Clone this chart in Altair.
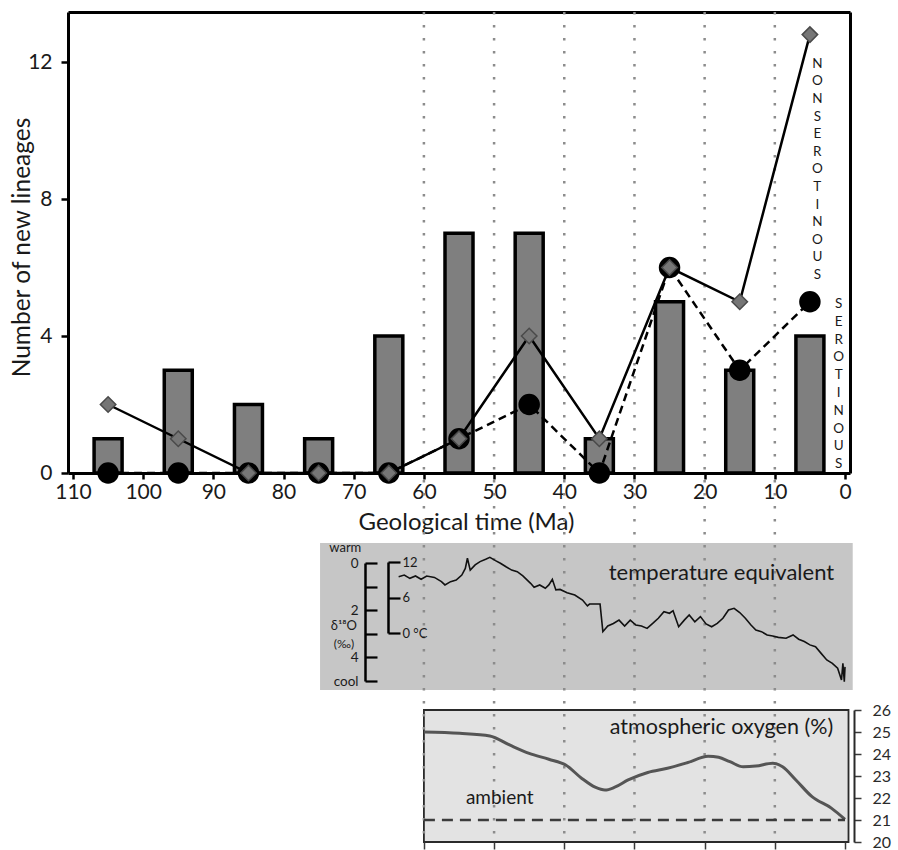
import altair as alt
import pandas as pd

# ---------------- data ----------------
bin_mid_ma = [105, 95, 85, 75, 65, 55, 45, 35, 25, 15, 5]
new_lineages_total = [1, 3, 2, 1, 4, 7, 7, 1, 5, 3, 4]
new_nonserotinous = [2, 1, 0, 0, 0, 1, 4, 1, 6, 5, 12.8]
new_serotinous = [0, 0, 0, 0, 0, 1, 2, 0, 6, 3, 5]

epoch_marks_ma = [60, 50, 40, 30, 20, 10]
x_tick_values = [110, 100, 90, 80, 70, 60, 50, 40, 30, 20, 10, 0]
y_tick_values = [0, 4, 8, 12]

# benthic delta-18O (per mil) record
temp_ma = [63.6, 62.8, 62.0, 61.2, 60.4, 59.6, 58.5, 57.5, 57.0, 56.2, 55.4, 54.6,
           54.1, 53.8, 53.4, 52.7, 52.0, 51.2, 50.6, 49.8, 49.1, 48.3, 47.5, 46.7,
           45.9, 44.8, 44.3, 43.5, 42.7, 42.2, 41.7, 41.2, 40.6, 39.6, 38.5, 37.4,
           36.7, 36.4, 35.3, 34.9, 34.5, 33.8, 33.0, 32.2, 31.4, 30.6, 29.8, 29.0,
           28.2, 27.4, 26.6, 25.8, 25.0, 24.5, 23.7, 22.9, 22.2, 21.4, 20.6, 19.8,
           19.0, 18.2, 17.4, 16.6, 15.8, 15.0, 14.2, 13.4, 12.7, 11.9, 11.1, 10.3,
           9.5, 8.4, 7.4, 6.6, 5.8, 5.0, 4.2, 3.4, 2.6, 1.8, 1.05, 0.5, 0.3, 0.1, 0.0]
temp_d18o = [0.58, 0.51, 0.65, 0.55, 0.69, 0.55, 0.61, 0.79, 0.93, 0.79, 0.72, 0.51,
             0.23, -0.20, 0.30, 0.08, -0.06, -0.16, -0.24, -0.10, 0.01, 0.16, 0.30, 0.37,
             0.55, 0.86, 1.03, 0.93, 1.07, 0.93, 0.69, 1.14, 1.12, 1.26, 1.36, 1.57,
             1.82, 1.74, 1.74, 1.74, 2.91, 2.67, 2.56, 2.42, 2.67, 2.42, 2.63, 2.67,
             2.77, 2.56, 2.34, 2.06, 2.13, 2.02, 2.70, 2.42, 2.20, 2.49, 2.27, 2.58,
             2.70, 2.56, 2.34, 1.99, 1.92, 2.10, 2.34, 2.63, 2.84, 2.91, 3.05, 3.09,
             3.15, 3.19, 3.05, 3.23, 3.33, 3.47, 3.55, 3.83, 4.11, 4.25, 4.46, 4.96, 4.25, 5.03, 4.40]
d18o_ticks = [0, 1, 2, 3, 4, 5]
degc_ticks = [0, 6, 12]

# atmospheric oxygen (%)
o2_ma = [60, 54.9, 50.6, 47.8, 45.0, 42.2, 39.8, 37.5, 35.6, 34.2, 32.8, 30.9, 28.1,
         25.3, 22.5, 19.5, 18.0, 16.4, 14.5, 12.7, 10.3, 8.9, 7.0, 4.7, 1.9, 0]
o2_pct = [25.0, 24.94, 24.82, 24.41, 24.03, 23.76, 23.5, 22.89, 22.49, 22.36, 22.49,
          22.82, 23.16, 23.35, 23.6, 23.9, 23.85, 23.65, 23.42, 23.45, 23.58, 23.42,
          22.82, 22.06, 21.53, 21.03]
o2_ticks = [20, 21, 22, 23, 24, 25, 26]
ambient_o2 = 21

label_nonserotinous = "NONSEROTINOUS"
label_serotinous = "SEROTINOUS"

# ---------------- layout ----------------
W, H = 782, 831
FONT = "Lato"
TXT = "#1a1a1a"

x_scale = alt.Scale(domain=[0, 110], reverse=True, nice=False, zero=False)
y_main = alt.Scale(domain=[0, 13.46], range=[461, 0], nice=False, zero=False)
y_d18o = alt.Scale(domain=[0, 5], range=[551, 669], nice=False, zero=False)
y_degc = alt.Scale(domain=[0, 12], range=[621, 550], nice=False, zero=False)
y_o2 = alt.Scale(domain=[20, 26], range=[830, 698], nice=False, zero=False)


def X(field, axis=None):
    return alt.X(field, type="quantitative", scale=x_scale, axis=axis)


def Y(field, scale, axis=None):
    return alt.Y(field, type="quantitative", scale=scale, axis=axis)


main_df = pd.DataFrame({"ma": bin_mid_ma, "total": new_lineages_total,
                        "nonser": new_nonserotinous, "ser": new_serotinous})

# panels backgrounds
temp_panel = alt.Chart(pd.DataFrame({"x0": [74.8], "x1": [-1.1], "y0": [-0.85], "y1": [5.38]})).mark_rect(
    fill="#c6c6c6").encode(x=X("x0"), x2="x1", y=Y("y0", y_d18o), y2="y1")

o2_panel = alt.Chart(pd.DataFrame({"x0": [60], "x1": [-0.5], "y0": [20], "y1": [26]})).mark_rect(
    fill="#e3e3e3", stroke="#2a2a2a", strokeWidth=1.8).encode(
    x=X("x0", alt.Axis(orient="bottom", offset=-1, values=[60, 50, 40, 30, 20, 10, 0],
                       domain=False, labels=False, ticks=True, tickSize=7, tickWidth=1.5,
                       tickColor="#3a3a3a", grid=False, title=None, zindex=1)),
    x2="x1", y=Y("y0", y_o2), y2="y1")

rules = alt.Chart(pd.DataFrame({"ma": epoch_marks_ma})).mark_rule(
    color="#8c8c8c", strokeWidth=2.5, strokeDash=[2.5, 10.5]).encode(x=X("ma"))

bars = alt.Chart(main_df).mark_bar(size=28, fill="#7f7f7f", stroke="black", strokeWidth=3.5).encode(
    x=X("ma", alt.Axis(orient="bottom", offset=-370, values=x_tick_values, tickSize=6, tickWidth=2.5,
                       tickColor="black", domainColor="black", domainWidth=3, labelFontSize=21,
                       labelColor=TXT, labelPadding=2, labelFlush=False, labelOverlap=False, grid=False,
                       title="Geological time (Ma)", titleFontSize=24, titleFontWeight="normal",
                       titleColor=TXT, titleX=398, titleY=49, titleBaseline="middle")),
    y=Y("total", y_main, alt.Axis(orient="left", values=y_tick_values, tickSize=7, tickWidth=2.5,
                                  tickColor="black", domainColor="black", domainWidth=3,
                                  labelFontSize=21, labelColor=TXT, labelPadding=9, labelFlush=False,
                                  grid=False, title="Number of new lineages", titleFontSize=24.5,
                                  titleFontWeight="normal", titleColor=TXT, titleX=-46, titleY=235,
                                  titleBaseline="middle", titleAlign="center")),
    y2=alt.datum(0))

line_non = alt.Chart(main_df).mark_line(color="black", strokeWidth=2.5).encode(
    x=X("ma", alt.Axis(orient="top", offset=0, ticks=False, labels=False, domainColor="black",
                       domainWidth=3, grid=False, title=None)),
    y=Y("nonser", y_main))

line_ser = alt.Chart(main_df).mark_line(color="black", strokeWidth=2.5, strokeDash=[8, 5]).encode(
    x=X("ma"),
    y=Y("ser", y_main, alt.Axis(orient="right", offset=0, ticks=False, labels=False, domainColor="black",
                                domainWidth=3, grid=False, title=None)))

pts_ser = alt.Chart(main_df).mark_point(shape="circle", filled=True, size=380, fill="black",
                                        stroke="black", opacity=1).encode(x=X("ma"), y=Y("ser", y_main))

pts_non = alt.Chart(main_df).mark_point(shape="diamond", filled=True, size=240, fill="#767676",
                                        stroke="#4a4a4a", strokeWidth=1.5, opacity=1).encode(
    x=X("ma"), y=Y("nonser", y_main))

vtext_non = alt.Chart(pd.DataFrame({"ma": [3.94], "v": [12.15]})).mark_text(
    text=list(label_nonserotinous), lineHeight=17.6, fontSize=13.5, baseline="top", align="center",
    color=TXT).encode(x=X("ma"), y=Y("v", y_main))

vtext_ser = alt.Chart(pd.DataFrame({"ma": [0.9], "v": [5.14]})).mark_text(
    text=list(label_serotinous), lineHeight=17.8, fontSize=13.5, baseline="top", align="center",
    color=TXT).encode(x=X("ma"), y=Y("v", y_main))

# temperature panel
temp_df = pd.DataFrame({"ma": temp_ma, "d18o": temp_d18o})
temp_line = alt.Chart(temp_df).mark_line(color="#111111", strokeWidth=1.6).encode(
    x=X("ma"),
    y=Y("d18o", y_d18o, alt.Axis(orient="right", offset=297 - W, values=d18o_ticks, tickSize=12,
                                 tickWidth=2.2, tickColor="black", domainColor="black", domainWidth=2.5,
                                 labelExpr="datum.value == 5 ? 'cool' : (datum.value % 2 == 0 ? datum.label : '')",
                                 labelAlign="right", labelPadding=-19, labelFontSize=13.5, labelColor=TXT,
                                 labelBaseline="middle", grid=False, title=None, zindex=1)))

degc_axis = alt.Chart(pd.DataFrame({"degc": degc_ticks})).mark_point(opacity=0).encode(
    y=Y("degc", y_degc, alt.Axis(orient="right", offset=320 - W, values=degc_ticks, tickSize=12,
                                 tickWidth=2.2, tickColor="black", domainColor="black", domainWidth=2.5,
                                 labelExpr="datum.value == 0 ? '0 °C' : datum.label",
                                 labelPadding=2, labelFontSize=13, labelColor=TXT,
                                 labelBaseline="middle", grid=False, title=None, zindex=1)))

temp_txt_df = pd.DataFrame({"ma": [17.6, 71.2, 71.4, 71.4], "v": [0.42, -0.64, 2.66, 3.42],
                            "t": ["temperature equivalent", "warm", "δ¹⁸O", "(‰)"],
                            "fs": [22, 13, 13, 12]})
temp_txt = alt.Chart(temp_txt_df).mark_text(color=TXT, baseline="middle", align="center").encode(
    x=X("ma"), y=Y("v", y_d18o), text="t:N",
    size=alt.Size("fs:Q", scale=None, legend=None))

# oxygen panel
o2_df = pd.DataFrame({"ma": o2_ma, "o2": o2_pct})
o2_line = alt.Chart(o2_df).mark_line(color="#555555", strokeWidth=3, interpolate="monotone").encode(
    x=X("ma"),
    y=Y("o2", y_o2, alt.Axis(orient="right", offset=4, values=o2_ticks, tickSize=7, tickWidth=1.5,
                             tickColor="#3a3a3a", domainColor="#2a2a2a", domainWidth=2,
                             labelFontSize=16, labelColor="#2a2a2a", labelPadding=11,
                             labelFlush=True, labelFlushOffset=8, labelOverlap=False,
                             grid=False, title=None, zindex=1)))

ambient = alt.Chart(pd.DataFrame({"start": [max(o2_ma)], "end": [min(o2_ma)], "level": [ambient_o2]})).mark_rule(
    strokeDash=[11, 7], strokeWidth=2.5, color="#3c3c3c").encode(
    x=X("start"), x2="end", y=Y("level", y_o2))

o2_txt_df = pd.DataFrame({"ma": [17.6, 49.2], "v": [25.18, 22.0],
                          "t": ["atmospheric oxygen (%)", "ambient"], "fs": [21.5, 19]})
o2_txt = alt.Chart(o2_txt_df).mark_text(color=TXT, baseline="middle", align="center").encode(
    x=X("ma"), y=Y("v", y_o2), text="t:N",
    size=alt.Size("fs:Q", scale=None, legend=None))

chart = alt.layer(
    temp_panel, o2_panel, rules, bars, line_non, line_ser, pts_ser, pts_non,
    vtext_non, vtext_ser, temp_line, degc_axis, temp_txt, o2_line, ambient, o2_txt
).resolve_scale(y="independent").resolve_axis(x="independent", y="independent").properties(
    width=W, height=H,
    autosize=alt.AutoSizeParams(type="none"),
    padding={"left": 68, "top": 12, "right": 48, "bottom": 7},
).configure(font=FONT).configure_view(strokeWidth=0, stroke="transparent")

chart.save("out.html", embed_options={"renderer": "svg", "actions": False})
